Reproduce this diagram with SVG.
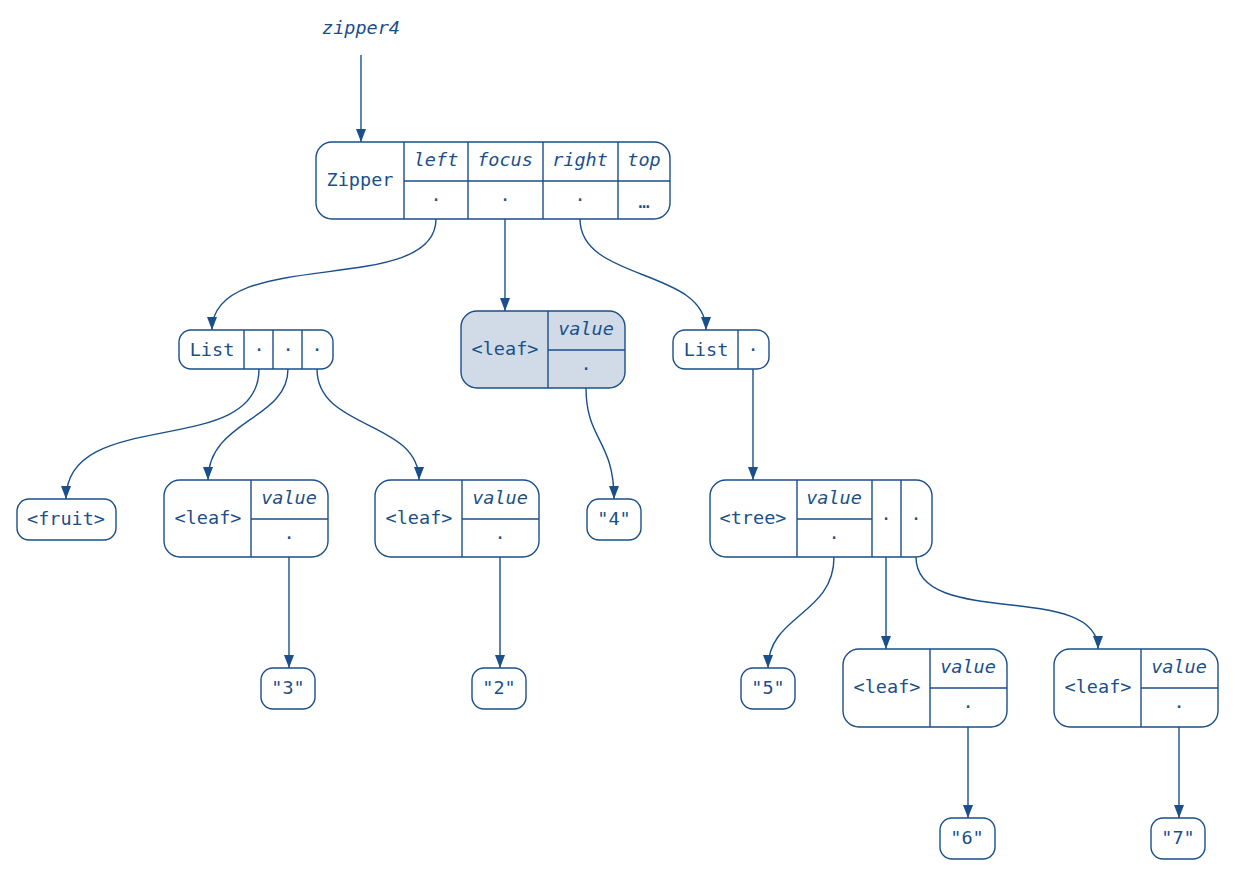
<svg xmlns="http://www.w3.org/2000/svg" width="1235" height="872" viewBox="0 0 1235 872">
<style>
.b{fill:#fff;stroke:#1a4f8b;stroke-width:1.4}
.f{fill:#d0dbe7}
.l{stroke:#1a4f8b;stroke-width:1.4;fill:none}
text{font-family:"DejaVu Sans Mono",monospace;font-size:18.5px;fill:#1a4f8b;text-anchor:middle}
.i{font-style:italic}
</style>
<defs>
<marker id="h" markerUnits="userSpaceOnUse" markerWidth="14" markerHeight="10" refX="13" refY="5" orient="auto" viewBox="0 0 14 10">
<path d="M0,0 L13,5 L0,10 Z" fill="#1a4f8b"/>
</marker>
</defs>
<g id="label-zipper4"><text class="i" x="361" y="34">zipper4</text></g>
<g id="edges" fill="none" stroke="#1a4f8b" stroke-width="1.4">
<path d="M361,55 L361,142" marker-end="url(#h)"/>
<path d="M436,219 C436,298 212,245 212,330" marker-end="url(#h)"/>
<path d="M505,219 L505,311" marker-end="url(#h)"/>
<path d="M580,219 C580,282 706,268 706,330" marker-end="url(#h)"/>
<path d="M259,369 C259,460 66,405 66,499" marker-end="url(#h)"/>
<path d="M288,369 C288,420 208,420 208,480" marker-end="url(#h)"/>
<path d="M317,369 C317,430 419,420 419,480" marker-end="url(#h)"/>
<path d="M586,388 C586,440 614,440 614,499" marker-end="url(#h)"/>
<path d="M753,369 L753,480" marker-end="url(#h)"/>
<path d="M289,557 L289,668" marker-end="url(#h)"/>
<path d="M500,557 L500,668" marker-end="url(#h)"/>
<path d="M834,557 C834,615 768,615 768,668" marker-end="url(#h)"/>
<path d="M886,557 L886,649" marker-end="url(#h)"/>
<path d="M916,557 C916,630 1098,580 1098,649" marker-end="url(#h)"/>
<path d="M968,727 L968,818" marker-end="url(#h)"/>
<path d="M1179,727 L1179,818" marker-end="url(#h)"/>
</g>
<g id="zipper">
<rect class="b" x="316" y="142" width="354" height="77" rx="16"/>
<path class="l" d="M404,142V219M468,142V219M543,142V219M618,142V219M404,181H670"/>
<text x="360" y="186">Zipper</text>
<text class="i" x="436" y="166">left</text>
<text class="i" x="505" y="166">focus</text>
<text class="i" x="580" y="166">right</text>
<text class="i" x="644" y="166">top</text>
<text x="436" y="206">·</text><text x="505" y="206">·</text><text x="580" y="206">·</text><text x="644" y="208">…</text>
</g>
<g id="list1">
<rect class="b" x="179" y="330" width="154" height="39" rx="12"/>
<path class="l" d="M244,330V369M273,330V369M302,330V369"/>
<text x="212" y="356">List</text>
<text x="259" y="356">·</text><text x="288" y="356">·</text><text x="317" y="356">·</text>
</g>
<g id="focus-leaf">
<rect class="b f" x="461" y="311" width="164" height="77" rx="16"/>
<path class="l" d="M548,311V388M548,350H625"/>
<text x="505" y="355">&lt;leaf&gt;</text>
<text class="i" x="586" y="335">value</text>
<text x="586" y="375">·</text>
</g>
<g id="list2">
<rect class="b" x="673" y="330" width="96" height="39" rx="12"/>
<path class="l" d="M738,330V369"/>
<text x="706" y="356">List</text>
<text x="753" y="356">·</text>
</g>
<g id="fruit">
<rect class="b" x="17" y="499" width="99" height="41" rx="12"/>
<text x="66" y="525">&lt;fruit&gt;</text>
</g>
<g id="leafA">
<rect class="b" x="164" y="480" width="164" height="77" rx="16"/>
<path class="l" d="M251,480V557M251,519H328"/>
<text x="208" y="524">&lt;leaf&gt;</text>
<text class="i" x="289" y="504">value</text>
<text x="289" y="544">·</text>
</g>
<g id="leafB">
<rect class="b" x="375" y="480" width="164" height="77" rx="16"/>
<path class="l" d="M462,480V557M462,519H539"/>
<text x="419" y="524">&lt;leaf&gt;</text>
<text class="i" x="500" y="504">value</text>
<text x="500" y="544">·</text>
</g>
<g id="str4">
<rect class="b" x="587" y="499" width="54" height="41" rx="12"/>
<text x="614" y="525">"4"</text>
</g>
<g id="tree">
<rect class="b" x="710" y="480" width="222" height="77" rx="16"/>
<path class="l" d="M797,480V557M872,480V557M901,480V557M797,519H872"/>
<text x="753" y="524">&lt;tree&gt;</text>
<text class="i" x="834" y="504">value</text>
<text x="834" y="544">·</text>
<text x="886" y="525">·</text><text x="916" y="525">·</text>
</g>
<g id="str3">
<rect class="b" x="261" y="668" width="54" height="41" rx="12"/>
<text x="288" y="694">"3"</text>
</g>
<g id="str2">
<rect class="b" x="472" y="668" width="54" height="41" rx="12"/>
<text x="499" y="694">"2"</text>
</g>
<g id="str5">
<rect class="b" x="741" y="668" width="54" height="41" rx="12"/>
<text x="768" y="694">"5"</text>
</g>
<g id="leafC">
<rect class="b" x="843" y="649" width="164" height="78" rx="16"/>
<path class="l" d="M930,649V727M930,688H1007"/>
<text x="887" y="693">&lt;leaf&gt;</text>
<text class="i" x="968" y="673">value</text>
<text x="968" y="713">·</text>
</g>
<g id="leafD">
<rect class="b" x="1054" y="649" width="164" height="78" rx="16"/>
<path class="l" d="M1141,649V727M1141,688H1218"/>
<text x="1098" y="693">&lt;leaf&gt;</text>
<text class="i" x="1179" y="673">value</text>
<text x="1179" y="713">·</text>
</g>
<g id="str6">
<rect class="b" x="940" y="818" width="55" height="41" rx="12"/>
<text x="967" y="844">"6"</text>
</g>
<g id="str7">
<rect class="b" x="1151" y="818" width="54" height="41" rx="12"/>
<text x="1178" y="844">"7"</text>
</g>
</svg>
